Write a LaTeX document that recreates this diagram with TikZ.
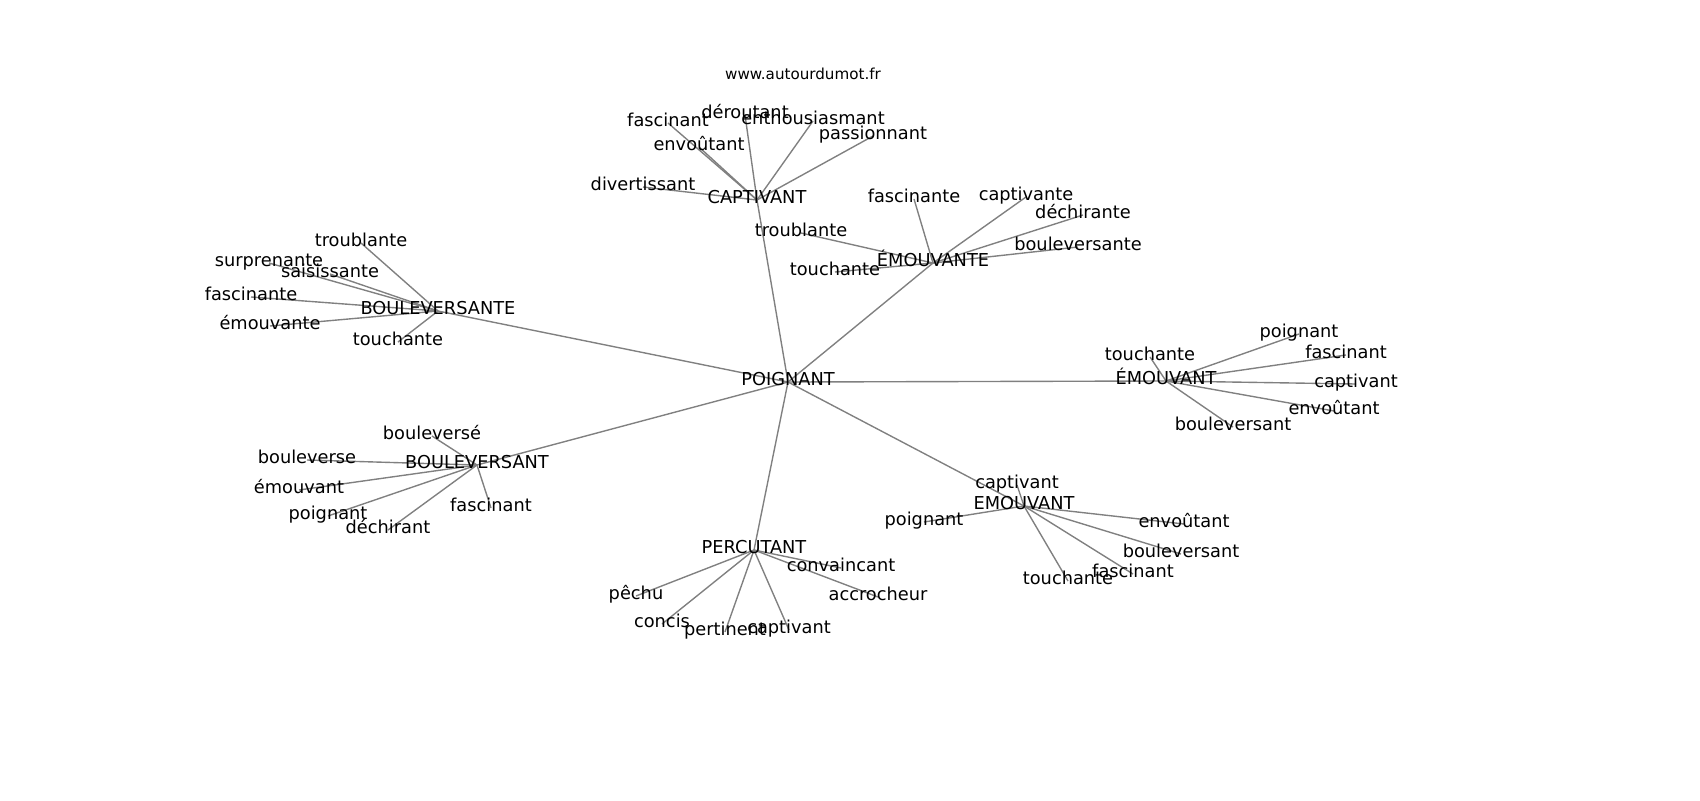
\documentclass[tikz,border=0pt]{standalone}
\usepackage{fontspec}
\setmainfont{DejaVu Sans}
\pgfdeclarelayer{background}
\pgfsetlayers{background,main}
\begin{document}
\begin{tikzpicture}[x=0.72pt,y=-0.72pt,
  lbl/.style={font=\fontsize{12.8}{15}\selectfont,inner sep=0pt,text height=0.76em,text depth=0.24em,anchor=center},
  ttl/.style={font=\fontsize{10.9}{13}\selectfont,inner sep=0pt,text height=0.76em,text depth=0.24em,anchor=center},
  edge/.style={draw=black!50,line width=1pt}]
\useasboundingbox (0,0) rectangle (1700,800);
\node[ttl] (t) at (803,76) {www.autourdumot.fr};
\node[lbl] (p) at (788,382) {POIGNANT};
% CAPTIVANT
\node[lbl] (c) at (757,200) {CAPTIVANT};
\node[lbl] (c1) at (745,115) {déroutant};
\node[lbl] (c2) at (668,123) {fascinant};
\node[lbl] (c3) at (813,121) {enthousiasmant};
\node[lbl] (c4) at (873,136) {passionnant};
\node[lbl] (c5) at (699,147) {envoûtant};
\node[lbl] (c6) at (643,187) {divertissant};
% EMOUVANTE
\node[lbl] (e) at (933,263) {ÉMOUVANTE};
\node[lbl] (e1) at (914,199) {fascinante};
\node[lbl] (e2) at (1026,197) {captivante};
\node[lbl] (e3) at (1083,215) {déchirante};
\node[lbl] (e4) at (1078,247) {bouleversante};
\node[lbl] (e5) at (801,233) {troublante};
\node[lbl] (e6) at (835,272) {touchante};
% BOULEVERSANTE
\node[lbl] (b) at (438,311) {BOULEVERSANTE};
\node[lbl] (b1) at (361,243) {troublante};
\node[lbl] (b2) at (269,263) {surprenante};
\node[lbl] (b3) at (330,274) {saisissante};
\node[lbl] (b4) at (251,297) {fascinante};
\node[lbl] (b5) at (270,326) {émouvante};
\node[lbl] (b6) at (398,342) {touchante};
% EMOUVANT (accent)
\node[lbl] (m) at (1166,381) {ÉMOUVANT};
\node[lbl] (m1) at (1150,357) {touchante};
\node[lbl] (m2) at (1299,334) {poignant};
\node[lbl] (m3) at (1346,355) {fascinant};
\node[lbl] (m4) at (1356,384) {captivant};
\node[lbl] (m5) at (1334,411) {envoûtant};
\node[lbl] (m6) at (1233,427) {bouleversant};
% BOULEVERSANT
\node[lbl] (v) at (477,465) {BOULEVERSANT};
\node[lbl] (v1) at (432,436) {bouleversé};
\node[lbl] (v2) at (307,460) {bouleverse};
\node[lbl] (v3) at (299,490) {émouvant};
\node[lbl] (v4) at (328,516) {poignant};
\node[lbl] (v5) at (388,530) {déchirant};
\node[lbl] (v6) at (491,508) {fascinant};
% EMOUVANT (no accent)
\node[lbl] (w) at (1024,506) {EMOUVANT};
\node[lbl] (w1) at (1017,485) {captivant};
\node[lbl] (w2) at (924,522) {poignant};
\node[lbl] (w3) at (1184,524) {envoûtant};
\node[lbl] (w4) at (1181,554) {bouleversant};
\node[lbl] (w5) at (1133,574) {fascinant};
\node[lbl] (w6) at (1068,581) {touchante};
% PERCUTANT
\node[lbl] (q) at (754,550) {PERCUTANT};
\node[lbl] (q1) at (841,568) {convaincant};
\node[lbl] (q2) at (878,597) {accrocheur};
\node[lbl] (q3) at (636,596) {pêchu};
\node[lbl] (q4) at (662,624) {concis};
\node[lbl] (q5) at (725,632) {pertinent};
\node[lbl] (q6) at (789,630) {captivant};
\begin{pgfonlayer}{background}
\foreach \h in {c,e,b,m,v,w,q} \draw[edge] (p.center) -- (\h.center);
\foreach \h in {c,e,b,m,v,w,q}
  \foreach \i in {1,...,6} \draw[edge] (\h.center) -- (\h\i.center);
\end{pgfonlayer}
\end{tikzpicture}
\end{document}
